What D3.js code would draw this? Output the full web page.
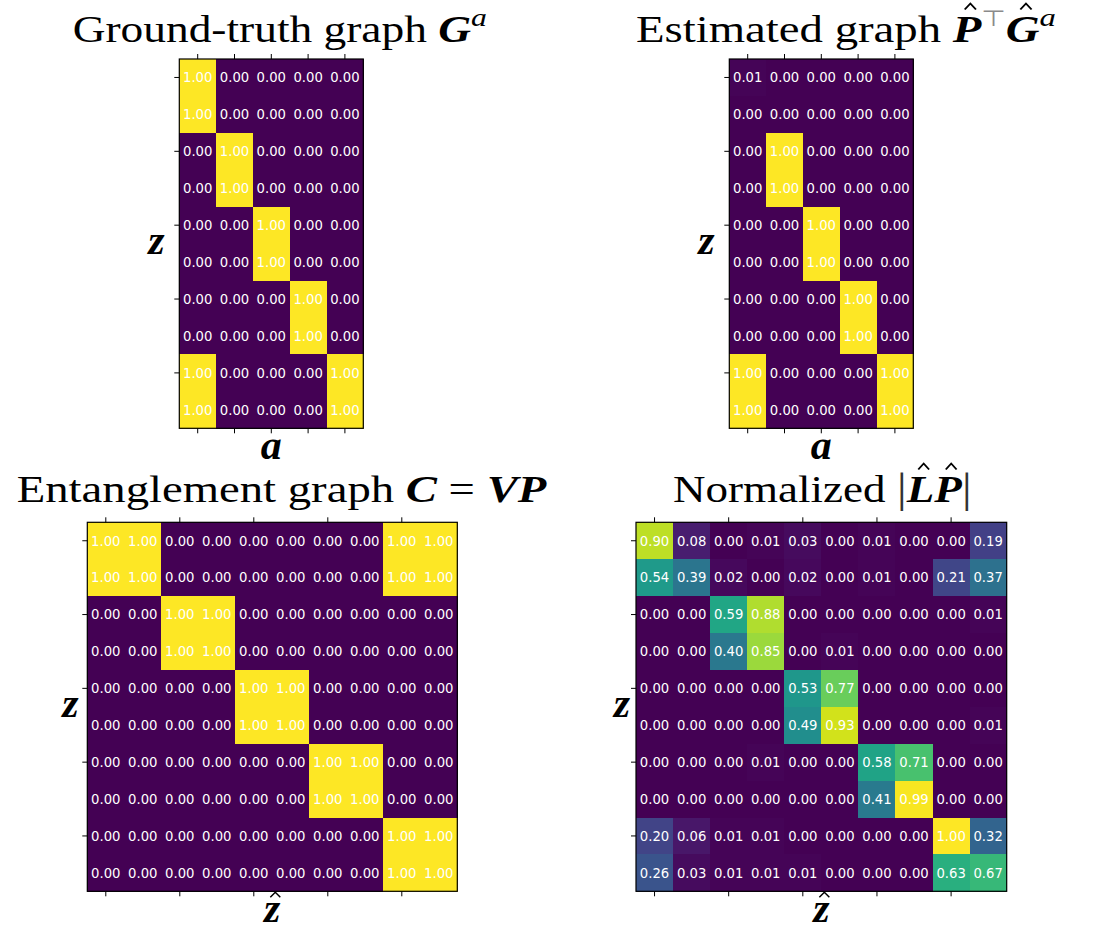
<!DOCTYPE html>
<html><head><meta charset="utf-8">
<script src="https://cdn.jsdelivr.net/npm/d3@7"></script>
<style>body{margin:0;background:#fff;}svg{display:block;}</style>
</head><body>
<svg id="chart" width="1095" height="939"></svg>
<script>
// ---------------- DATA ----------------
const groundTruth = [
  [1,0,0,0,0],[1,0,0,0,0],
  [0,1,0,0,0],[0,1,0,0,0],
  [0,0,1,0,0],[0,0,1,0,0],
  [0,0,0,1,0],[0,0,0,1,0],
  [1,0,0,0,1],[1,0,0,0,1]
];
const estimated = [
  [0.01,0,0,0,0],[0,0,0,0,0],
  [0,1,0,0,0],[0,1,0,0,0],
  [0,0,1,0,0],[0,0,1,0,0],
  [0,0,0,1,0],[0,0,0,1,0],
  [1,0,0,0,1],[1,0,0,0,1]
];
const entanglement = [
  [1,1,0,0,0,0,0,0,1,1],[1,1,0,0,0,0,0,0,1,1],
  [0,0,1,1,0,0,0,0,0,0],[0,0,1,1,0,0,0,0,0,0],
  [0,0,0,0,1,1,0,0,0,0],[0,0,0,0,1,1,0,0,0,0],
  [0,0,0,0,0,0,1,1,0,0],[0,0,0,0,0,0,1,1,0,0],
  [0,0,0,0,0,0,0,0,1,1],[0,0,0,0,0,0,0,0,1,1]
];
const normalizedLP = [
  [0.90,0.08,0.00,0.01,0.03,0.00,0.01,0.00,0.00,0.19],
  [0.54,0.39,0.02,0.00,0.02,0.00,0.01,0.00,0.21,0.37],
  [0.00,0.00,0.59,0.88,0.00,0.00,0.00,0.00,0.00,0.01],
  [0.00,0.00,0.40,0.85,0.00,0.01,0.00,0.00,0.00,0.00],
  [0.00,0.00,0.00,0.00,0.53,0.77,0.00,0.00,0.00,0.00],
  [0.00,0.00,0.00,0.00,0.49,0.93,0.00,0.00,0.00,0.01],
  [0.00,0.00,0.00,0.01,0.00,0.00,0.58,0.71,0.00,0.00],
  [0.00,0.00,0.00,0.00,0.00,0.00,0.41,0.99,0.00,0.00],
  [0.20,0.06,0.01,0.01,0.00,0.00,0.00,0.00,1.00,0.32],
  [0.26,0.03,0.01,0.01,0.01,0.00,0.00,0.00,0.63,0.67]
];
const smallColTicks = [0,1,2,3,4];
const wideColTicks = [0,2,4,6,8];
const rowTicks = [0,2,4,6,8];

// Title pieces (text content)
const title1 = [{t:"Ground-truth graph "},{t:"G",bi:1},{t:"a",it:1,sup:1}];
const title2 = [{t:"Estimated graph "},{t:"P",bi:1,hat:1},{t:"\u22A4",sup:1,rel:0.6,font:"DejaVu Sans",fill:"#8a8a8a"},{t:"G",bi:1,hat:1},{t:"a",it:1,sup:1}];
const title3 = [{t:"Entanglement graph "},{t:"C",bi:1},{t:" = "},{t:"VP",bi:1}];
const title4 = [{t:"Normalized "},{t:"|",big:1.12,fill:"#333"},{t:"L",bi:1,hat:1},{t:"P",bi:1,hat:1},{t:"|",big:1.12,fill:"#333"}];

// ---------------- LAYOUT ----------------
const svg = d3.select("#chart");
const SERIF = '"Liberation Serif","Times New Roman",serif';

const panels = [
  {data:groundTruth, xt:smallColTicks, x:179.3, y:59, w:184, h:369.3, zx:156.5, xl:"a", xlHat:false,
   title:title1, tx0:72.7, tx1:487, tb:42},
  {data:estimated, xt:smallColTicks, x:729.3, y:59, w:184, h:369.3, zx:706.5, xl:"a", xlHat:false,
   title:title2, tx0:636, tx1:1056, tb:42},
  {data:entanglement, xt:wideColTicks, x:87.3, y:522.3, w:370, h:369, zx:70.5, xl:"z", xlHat:true,
   title:title3, tx0:16.7, tx1:547, tb:501.5},
  {data:normalizedLP, xt:wideColTicks, x:636, y:522.3, w:370.7, h:369, zx:622, xl:"z", xlHat:true,
   title:title4, tx0:673, tx1:972, tb:502}
];

function drawTitle(parts, x0, x1, base, size) {
  const g = svg.append("g");
  const txt = g.append("text").attr("x",0).attr("y",0)
    .style("font-family",SERIF).style("font-size",size+"px").attr("fill","#000");
  let raised = false, idx = 0;
  const hats = [];
  const lift = size*0.42;
  parts.forEach(p => {
    const ts = txt.append("tspan").text(p.t);
    if (p.bi) ts.style("font-weight","bold").style("font-style","italic");
    if (p.it) ts.style("font-style","italic");
    if (p.font) ts.style("font-family",p.font);
    if (p.fill) ts.attr("fill",p.fill);
    if (p.big) ts.style("font-size",(size*p.big)+"px");
    if (p.sup) {
      ts.style("font-size",(size*(p.rel||0.7))+"px");
      if (!raised) { ts.attr("dy",-lift); raised = true; }
    } else if (raised) { ts.attr("dy",lift); raised = false; }
    if (p.hat) for (let k=0;k<p.t.length;k++) hats.push(idx+k);
    idx += p.t.length;
  });
  const bb = txt.node().getBBox();
  const sx = (x1-x0)/bb.width;
  g.attr("transform",`translate(${x0 - bb.x*sx},${base}) scale(${sx},1)`);
  hats.forEach(k => {
    const e = txt.node().getExtentOfChar(k);
    const cx = e.x + e.width/2 + size*0.07;
    const hw = size*0.12, yb = -size*0.88, yt = -size*1.04;
    g.append("path").attr("d",`M${cx-hw},${yb}L${cx},${yt}L${cx+hw},${yb}`)
      .attr("fill","none").attr("stroke","#000").attr("stroke-width",1.5)
      .attr("stroke-linejoin","miter");
  });
}

panels.forEach(p => {
  const nr = p.data.length, nc = p.data[0].length;
  const x = d3.scaleBand().domain(d3.range(nc)).range([p.x, p.x+p.w]);
  const y = d3.scaleBand().domain(d3.range(nr)).range([p.y, p.y+p.h]);
  const cells = p.data.flatMap((row,i) => row.map((v,j) => ({i,j,v})));
  const color = d3.scaleSequential(d3.interpolateViridis).domain(d3.extent(cells, d=>d.v));
  const g = svg.append("g");
  g.selectAll("rect.cell").data(cells).join("rect").attr("class","cell")
    .attr("x",d=>x(d.j)).attr("y",d=>y(d.i))
    .attr("width",x.bandwidth()+0.6).attr("height",y.bandwidth()+0.6)
    .attr("fill",d=>color(d.v)).attr("shape-rendering","crispEdges");
  // frame
  g.append("rect").attr("x",p.x).attr("y",p.y).attr("width",p.w).attr("height",p.h)
    .attr("fill","none").attr("stroke","#000").attr("stroke-width",1.2);
  g.selectAll("text.val").data(cells).join("text").attr("class","val")
    .attr("x",d=>x(d.j)+x.bandwidth()/2).attr("y",d=>y(d.i)+y.bandwidth()/2)
    .attr("text-anchor","middle").attr("dy","0.36em")
    .style("font-family","'DejaVu Sans',sans-serif").style("font-size","13.2px")
    .attr("fill","#fff").text(d=>d.v.toFixed(2));
  // axes (ticks only)
  const styleAxis = sel => {
    sel.select(".domain").remove();
    sel.selectAll(".tick line").attr("stroke","#000").attr("stroke-width",1);
    sel.selectAll(".tick text").remove();
  };
  svg.append("g").attr("transform",`translate(0,${p.y})`)
    .call(d3.axisTop(x).tickValues(p.xt).tickSize(5).tickFormat(""))
    .call(styleAxis);
  svg.append("g").attr("transform",`translate(0,${p.y+p.h})`)
    .call(d3.axisBottom(x).tickValues(p.xt).tickSize(5).tickFormat(""))
    .call(styleAxis);
  svg.append("g").attr("transform",`translate(${p.x},0)`)
    .call(d3.axisLeft(y).tickValues(rowTicks).tickSize(5).tickFormat(""))
    .call(styleAxis);
  // axis labels
  const cy = p.y + p.h/2;
  svg.append("text").attr("x",p.zx).attr("y",cy+10).attr("text-anchor","middle")
    .style("font-family",SERIF).style("font-size","42px")
    .style("font-weight","bold").style("font-style","italic").text("z");
  const lx = p.x + p.w/2, ly = p.y + p.h + 31;
  svg.append("text").attr("x",lx).attr("y",ly).attr("text-anchor","middle")
    .style("font-family",SERIF).style("font-size","42px")
    .style("font-weight","bold").style("font-style","italic").text(p.xl);
  if (p.xlHat) {
    const hx = lx + 3, hw = 5;
    svg.append("path").attr("d",`M${hx-hw},${ly-25}L${hx},${ly-30}L${hx+hw},${ly-25}`)
      .attr("fill","none").attr("stroke","#000").attr("stroke-width",1.5);
  }
  drawTitle(p.title, p.tx0, p.tx1, p.tb, 37);
});
</script>
</body></html>
